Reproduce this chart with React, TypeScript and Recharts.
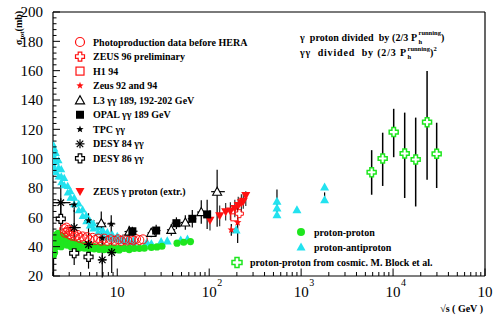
import React from "react";
import { ScatterChart, Scatter, XAxis, YAxis, ErrorBar, ReferenceLine, Customized } from "recharts";

const W = 494;
const H = 316;
const SERIF = "'Liberation Serif', 'Times New Roman', serif";
const RED = "#ff1010";
const GREEN = "#1ee61e";
const CYAN = "#22e2ef";
const BLACK = "#000";

// ---- axis ticks ----
const yMajor = [20, 40, 60, 80, 100, 120, 140, 160, 180, 200];
const yMinor = [24, 28, 32, 36, 44, 48, 52, 56, 64, 68, 72, 76, 84, 88, 92, 96, 104, 108, 112, 116, 124, 128, 132, 136, 144, 148, 152, 156, 164, 168, 172, 176, 184, 188, 192, 196];
const xMajor = [10, 100, 1000, 10000, 100000];
const xMajorExp = ["", "2", "3", "4", ""];
const xMinor = [2, 3, 4, 5, 6, 7, 8, 9, 20, 30, 40, 50, 60, 70, 80, 90, 200, 300, 400, 500, 600, 700, 800, 900, 2000, 3000, 4000, 5000, 6000, 7000, 8000, 9000, 20000, 30000, 40000, 50000, 60000, 70000, 80000, 90000];

// ---- data: [sqrt(s) GeV, sigma mb, errLow, errHigh, xErrLow, xErrHigh] ----
const ppbarLow: number[][] = [
  [2.0, 110], [2.0, 103], [2.0, 96], [2.07, 107], [2.07, 100], [2.07, 93], [2.15, 104], [2.15, 98], [2.15, 91],
  [2.3, 99], [2.3, 94], [2.3, 88], [2.46, 93], [2.46, 88], [2.46, 84], [2.65, 87], [2.65, 82], [2.89, 81.5], [2.89, 77],
  [3.1, 78], [3.1, 73.5], [3.4, 73.5], [3.4, 69], [3.81, 69.5], [3.81, 65], [4.2, 65.5], [4.2, 61], [4.6, 61.5], [4.6, 57.5],
  [5.02, 58], [5.02, 54.5], [5.5, 56], [5.5, 52.5], [6.2, 53.5], [6.2, 50], [6.95, 51.5], [6.95, 48], [7.8, 50], [7.8, 46.5],
  [8.8, 48.5], [8.8, 45.5], [10, 47.5], [10, 45], [11.5, 46], [11.5, 44], [13, 45.3], [13, 43.5], [15, 44.5], [15, 43],
];
const ppbarHigh: number[][] = [
  [21, 43], [23.5, 42], [30, 43.5], [35, 44], [49, 44.6], [58, 45.2], [196, 51.5],
  [546, 71], [546, 66.4, 3.4, 12.5], [546, 61.8], [900, 65.2], [1800, 80.7], [1800, 72, 2, 5],
];
const ppData: number[][] = [
  [2.02, 34, 14, 3], [2.02, 38], [2.03, 42], [2.08, 45], [2.08, 40], [2.08, 36], [2.17, 48], [2.17, 44], [2.17, 40],
  [2.27, 49], [2.27, 45], [2.27, 41], [2.45, 47.5], [2.45, 43.5], [2.45, 40], [2.65, 46], [2.65, 42], [2.85, 44], [2.85, 41],
  [3.15, 43], [3.15, 40], [3.5, 42], [3.5, 39.5], [3.85, 41.5], [3.85, 39], [4.4, 41], [4.4, 39], [4.95, 40.5], [4.95, 38.5],
  [5.6, 40], [5.6, 38.5], [6.35, 39.5], [6.35, 38.2], [7.2, 39.2], [7.2, 38], [8.2, 39], [8.2, 37.8], [9.3, 39], [9.3, 37.8],
  [10.5, 38.8], [10.5, 37.8], [11.9, 38.8], [13.5, 38.8], [13.5, 38], [15.3, 38.8], [17.4, 38.9], [19.7, 39],
  [23.5, 39.5], [27, 39.8], [30.6, 40.3], [44.7, 42.4], [52.8, 43], [62.5, 43.5],
];
const photoOld: number[][] = [
  [2.65, 52], [2.7, 49.5], [2.8, 53], [2.85, 50], [2.95, 51.5], [3.0, 48.5], [3.1, 50.5], [3.2, 47.5], [3.35, 49], [3.5, 47],
  [3.7, 48], [3.9, 46], [4.2, 47], [4.4, 45], [4.7, 46.5], [5.0, 44.5], [5.4, 46], [5.75, 44.5], [6.2, 45.5], [6.7, 44],
  [7.2, 45.5], [7.8, 44], [8.5, 45], [9.3, 44], [10.2, 45], [11, 44], [12, 45], [12.8, 44.2], [14, 45], [14.9, 44.3],
  [16, 45.2], [17.4, 44.5], [19, 45],
];
const zeus96: number[][] = [[213, 62.5, 5, 5]];
const h194: number[][] = [[188, 60, 5, 5]];
const zeus9294: number[][] = [[174, 51.5, 4, 4], [204, 56.5, 14, 13.5]];
const l3: number[][] = [
  [6.7, 56, 8, 8, 0.8, 0.8], [13.5, 50.3, 4, 4, 1.5, 1.5], [23.4, 49.5, 3, 3, 2, 2], [38.7, 51.5, 4, 4, 4, 4],
  [55, 56.5, 5, 5, 6, 6], [82, 63.6, 8, 8, 8, 8], [122, 77.5, 24, 15, 17, 26],
];
const opal: number[][] = [
  [14.6, 50.5, 3, 3, 2, 2], [26.5, 51, 4, 4, 3, 3], [44, 56, 4, 4, 5, 5], [65.5, 59, 6, 6, 7, 7], [95, 62, 10, 10, 9, 9],
];
const tpc: number[][] = [
  [3.4, 68.6, 5, 5, 0.4, 0.6], [4.87, 57.8, 5, 5, 0.5, 0.8], [6.87, 45.8, 10, 10, 0.5, 0.6], [8.6, 55.5, 6, 6, 0.8, 0.9],
];
const desy84: number[][] = [
  [2.43, 70, 14, 14, 0.43, 0.67], [3.4, 53, 12, 12, 0.5, 0.6], [4.87, 41.5, 12, 12, 0.5, 0.6],
  [6.87, 31, 12, 15, 0.6, 0.7], [8.7, 36, 14, 14, 0.8, 0.9],
];
const desy86: number[][] = [[2.43, 59, 8, 8], [3.4, 35.5, 8, 8], [4.87, 33, 8, 8]];
const zeusExtr: number[][] = [
  [102, 58, 7, 7], [130, 61, 7, 7], [151, 63.8, 6, 6], [170, 64.2, 6, 6], [190, 66, 6, 6],
  [207, 68, 6, 6], [224, 69.8, 6, 6], [235, 70.9, 5, 5], [250, 74.8, 7, 3],
];
const cosmic: number[][] = [
  [5850, 90.7, 15.3, 15.1], [7710, 100.1, 18.7, 17.6], [10160, 118.1, 17.1, 15.9], [13380, 103.5, 30.3, 27.9],
  [17620, 99.4, 32, 28.6], [23440, 124.9, 39.2, 34.9], [29800, 103.3, 23.3, 21.2],
];

const legendLeft = [
  "Photoproduction data before HERA", "ZEUS 96 preliminary", "H1 94", "Zeus 92 and 94",
  "L3 \u03b3\u03b3  189, 192-202 GeV", "OPAL \u03b3\u03b3  189 GeV", "TPC \u03b3\u03b3", "DESY 84 \u03b3\u03b3", "DESY 86 \u03b3\u03b3",
];
const legendZeusExtr = "ZEUS \u03b3 proton (extr.)";
const legendRight = ["proton-proton", "proton-antiproton"];
const legendCosmic = "proton-proton from cosmic. M. Block et al.";
const note1 = "\u03b3  proton divided  by (2/3 P";
const note2 = "\u03b3\u03b3  divided  by (2/3 P";

const toPts = (arr: number[][]) =>
  arr.map((r) => ({
    x: r[0],
    y: r[1],
    ey: [r[2] ?? 0, r[3] ?? r[2] ?? 0],
    ex: [r[4] ?? 0, r[5] ?? r[4] ?? 0],
  }));

function Marker({ kind, x, y, color, s, sw = 1 }: any) {
  switch (kind) {
    case "circle":
      return <circle cx={x} cy={y} r={s} fill={color} />;
    case "circleOpen":
      return <circle cx={x} cy={y} r={s} fill="none" stroke={color} strokeWidth={sw} />;
    case "triUp":
      return <polygon points={`${x},${y - s} ${x - s},${y + 0.8 * s} ${x + s},${y + 0.8 * s}`} fill={color} />;
    case "triUpOpen":
      return <polygon points={`${x},${y - s} ${x - s},${y + 0.8 * s} ${x + s},${y + 0.8 * s}`} fill="#fff" stroke={color} strokeWidth={sw} />;
    case "triDown":
      return <polygon points={`${x - s},${y - 0.8 * s} ${x + s},${y - 0.8 * s} ${x},${y + s}`} fill={color} />;
    case "square":
      return <rect x={x - s} y={y - s} width={2 * s} height={2 * s} fill={color} />;
    case "squareOpen":
      return <rect x={x - s} y={y - s} width={2 * s} height={2 * s} fill="none" stroke={color} strokeWidth={sw} />;
    case "crossOpen": {
      const w = s * 0.4;
      const d = `M${x - w},${y - s}L${x + w},${y - s}L${x + w},${y - w}L${x + s},${y - w}L${x + s},${y + w}L${x + w},${y + w}L${x + w},${y + s}L${x - w},${y + s}L${x - w},${y + w}L${x - s},${y + w}L${x - s},${y - w}L${x - w},${y - w}Z`;
      return <path d={d} fill="#fff" stroke={color} strokeWidth={sw} />;
    }
    case "star": {
      const pts: string[] = [];
      for (let i = 0; i < 10; i++) {
        const r = i % 2 === 0 ? s : s * 0.42;
        const a = -Math.PI / 2 + (i * Math.PI) / 5;
        pts.push(`${x + r * Math.cos(a)},${y + r * Math.sin(a)}`);
      }
      return <polygon points={pts.join(" ")} fill={color} />;
    }
    case "asterisk": {
      const k = s * 0.72;
      return (
        <g stroke={color} strokeWidth={sw}>
          <line x1={x - s} y1={y} x2={x + s} y2={y} />
          <line x1={x} y1={y - s} x2={x} y2={y + s} />
          <line x1={x - k} y1={y - k} x2={x + k} y2={y + k} />
          <line x1={x - k} y1={y + k} x2={x + k} y2={y - k} />
        </g>
      );
    }
    default:
      return <g />;
  }
}

const shape = (kind: string, color: string, s: number, sw = 1) => (p: any) =>
  p.cx == null ? <g /> : <Marker kind={kind} x={p.cx} y={p.cy} color={color} s={s} sw={sw} />;

const YTick = (props: any) => {
  const { x, y, payload } = props;
  const v = payload.value;
  const major = yMajor.includes(v);
  return (
    <g>
      <line x1={x} x2={x + (major ? 7 : 3.5)} y1={y} y2={y} stroke={BLACK} strokeWidth={1} />
      {major && (
        <text x={x - 10} y={y} dy="0.36em" textAnchor="end" fontFamily={SERIF} fontSize={15} fill={BLACK}>
          {v}
        </text>
      )}
    </g>
  );
};

const XTick = (props: any) => {
  const { x, y, payload } = props;
  const v = payload.value;
  const idx = xMajor.indexOf(v);
  const major = idx >= 0;
  return (
    <g>
      <line x1={x} x2={x} y1={y} y2={y - (major ? 7.5 : 4)} stroke={BLACK} strokeWidth={1} />
      {major && (
        <g fontFamily={SERIF} fill={BLACK}>
          <text x={Math.min(x, 485)} y={y + 21} textAnchor="middle" fontSize={15}>10</text>
          {xMajorExp[idx] && (
            <text x={x + 8} y={y + 10} fontSize={10}>{xMajorExp[idx]}</text>
          )}
        </g>
      )}
    </g>
  );
};

const leftKinds: [string, string, number][] = [
  ["circleOpen", RED, 4.5], ["crossOpen", RED, 4.5], ["squareOpen", RED, 4], ["star", RED, 3.8],
  ["triUpOpen", BLACK, 4.5], ["square", BLACK, 4], ["star", BLACK, 3.8], ["asterisk", BLACK, 4.5], ["crossOpen", BLACK, 4.5],
];

const Annotations = () => {
  const t = { fontFamily: SERIF, fontSize: 10, fontWeight: "bold" as const, fill: BLACK };
  const n = { fontFamily: SERIF, fontSize: 10, fontWeight: "bold" as const, fill: BLACK, style: { whiteSpace: "pre" as const } };
  const sm = { fontFamily: SERIF, fontSize: 6.5, fontWeight: "bold" as const, fill: BLACK };
  return (
    <g>
      {legendLeft.map((label, i) => {
        const yy = 42 + i * 14.55;
        const [k, c, s] = leftKinds[i];
        return (
          <g key={label}>
            <Marker kind={k} x={80} y={yy} color={c} s={s} sw={1.2} />
            <text x={93} y={yy + 3.5} {...t}>{label}</text>
          </g>
        );
      })}
      <Marker kind="triDown" x={80} y={191.5} color={RED} s={4.5} />
      <text x={93} y={195} {...t}>{legendZeusExtr}</text>
      <Marker kind="circle" x={301} y={232} color={GREEN} s={4} />
      <text x={314} y={235.5} {...t}>{legendRight[0]}</text>
      <Marker kind="triUp" x={301} y={247} color={CYAN} s={4.5} />
      <text x={314} y={250.5} {...t}>{legendRight[1]}</text>
      <Marker kind="crossOpen" x={237} y={262.5} color={GREEN} s={5} sw={1.5} />
      <text x={250} y={266} {...t}>{legendCosmic}</text>

      <text x={300} y={41} textLength={117} lengthAdjust="spacing" {...n}>{note1}</text>
      <text x={418.5} y={43.5} {...sm}>h</text>
      <text x={418.5} y={34.5} {...sm}>running</text>
      <text x={441} y={41} {...n}>)</text>

      <text x={300} y={55.5} textLength={106} lengthAdjust="spacing" {...n}>{note2}</text>
      <text x={407.5} y={59} {...sm}>h</text>
      <text x={407.5} y={50.8} {...sm}>running</text>
      <text x={430} y={55.5} {...n}>)</text>
      <text x={433.5} y={50.5} {...sm}>2</text>

      <text transform="rotate(-90 22 45)" x={22} y={45} {...t}>
        {"\u03c3"}
        <tspan fontSize={7} dy={2}>tot</tspan>
        <tspan fontSize={10} dy={-2}>(mb)</tspan>
      </text>
      <text x={483} y={312} textAnchor="end" {...t}>{"\u221as ( GeV )"}</text>
    </g>
  );
};

export default function App() {
  return (
    <div style={{ position: "absolute", left: 0, top: 0, width: W, height: H, background: "#fff" }}>
      <ScatterChart width={W} height={H} margin={{ top: 12, right: 9, bottom: 0, left: 0 }}>
        <XAxis
          type="number"
          dataKey="x"
          scale="log"
          domain={[2, 100000]}
          allowDataOverflow
          ticks={[...xMinor, ...xMajor]}
          interval={0}
          tick={<XTick />}
          tickLine={false}
          tickSize={0}
          tickMargin={0}
          height={40}
          axisLine={{ stroke: BLACK, strokeWidth: 1.2 }}
        />
        <YAxis
          type="number"
          dataKey="y"
          domain={[20, 200]}
          allowDataOverflow
          ticks={[...yMinor, ...yMajor]}
          interval={0}
          tick={<YTick />}
          tickLine={false}
          tickSize={0}
          tickMargin={0}
          width={53}
          axisLine={{ stroke: BLACK, strokeWidth: 1.2 }}
        />
        <ReferenceLine y={200} stroke="#7a7a7a" strokeWidth={2} />
        <ReferenceLine x={100000} stroke={BLACK} strokeWidth={1.2} />

        <Scatter data={toPts(ppbarLow)} isAnimationActive={false} shape={shape("triUp", CYAN, 4)} />
        <Scatter data={toPts(ppbarHigh)} isAnimationActive={false} shape={shape("triUp", CYAN, 4.5)}>
          <ErrorBar dataKey="ey" direction="y" width={0} stroke={BLACK} strokeWidth={1.2} />
        </Scatter>
        <Scatter data={toPts(ppData)} isAnimationActive={false} shape={shape("circle", GREEN, 3.6)}>
          <ErrorBar dataKey="ey" direction="y" width={0} stroke={BLACK} strokeWidth={1.5} />
        </Scatter>
        <Scatter data={toPts(photoOld)} isAnimationActive={false} shape={shape("circleOpen", RED, 4.5, 1)} />
        <Scatter data={toPts(zeusExtr)} isAnimationActive={false} shape={shape("triDown", RED, 4.5)}>
          <ErrorBar dataKey="ey" direction="y" width={0} stroke="#333" strokeWidth={1.2} />
        </Scatter>
        <Scatter data={toPts(zeus9294)} isAnimationActive={false} shape={shape("star", RED, 4)}>
          <ErrorBar dataKey="ey" direction="y" width={0} stroke={BLACK} strokeWidth={1.2} />
        </Scatter>
        <Scatter data={toPts(h194)} isAnimationActive={false} shape={shape("squareOpen", RED, 3.5, 1)} />
        <Scatter data={toPts(zeus96)} isAnimationActive={false} shape={shape("crossOpen", RED, 4, 1)} />
        <Scatter data={toPts(l3)} isAnimationActive={false} shape={shape("triUpOpen", BLACK, 4.5, 1.1)}>
          <ErrorBar dataKey="ey" direction="y" width={0} stroke={BLACK} strokeWidth={1.2} />
          <ErrorBar dataKey="ex" direction="x" width={0} stroke={BLACK} strokeWidth={1.2} />
        </Scatter>
        <Scatter data={toPts(opal)} isAnimationActive={false} shape={shape("square", BLACK, 4)}>
          <ErrorBar dataKey="ey" direction="y" width={0} stroke={BLACK} strokeWidth={1.2} />
          <ErrorBar dataKey="ex" direction="x" width={0} stroke={BLACK} strokeWidth={1.2} />
        </Scatter>
        <Scatter data={toPts(tpc)} isAnimationActive={false} shape={shape("star", BLACK, 3.8)}>
          <ErrorBar dataKey="ey" direction="y" width={0} stroke={BLACK} strokeWidth={1.2} />
          <ErrorBar dataKey="ex" direction="x" width={0} stroke={BLACK} strokeWidth={1.2} strokeDasharray="3 2" />
        </Scatter>
        <Scatter data={toPts(desy84)} isAnimationActive={false} shape={shape("asterisk", BLACK, 4.5, 1.3)}>
          <ErrorBar dataKey="ey" direction="y" width={0} stroke={BLACK} strokeWidth={1.2} />
          <ErrorBar dataKey="ex" direction="x" width={0} stroke={BLACK} strokeWidth={1.2} />
        </Scatter>
        <Scatter data={toPts(desy86)} isAnimationActive={false} shape={shape("crossOpen", BLACK, 4.5, 1.2)}>
          <ErrorBar dataKey="ey" direction="y" width={0} stroke={BLACK} strokeWidth={1.2} />
        </Scatter>
        <Scatter data={toPts(cosmic)} isAnimationActive={false} shape={shape("crossOpen", GREEN, 4.5, 1.5)}>
          <ErrorBar dataKey="ey" direction="y" width={0} stroke={BLACK} strokeWidth={1.5} />
        </Scatter>
        <Customized component={Annotations} />
      </ScatterChart>
    </div>
  );
}
